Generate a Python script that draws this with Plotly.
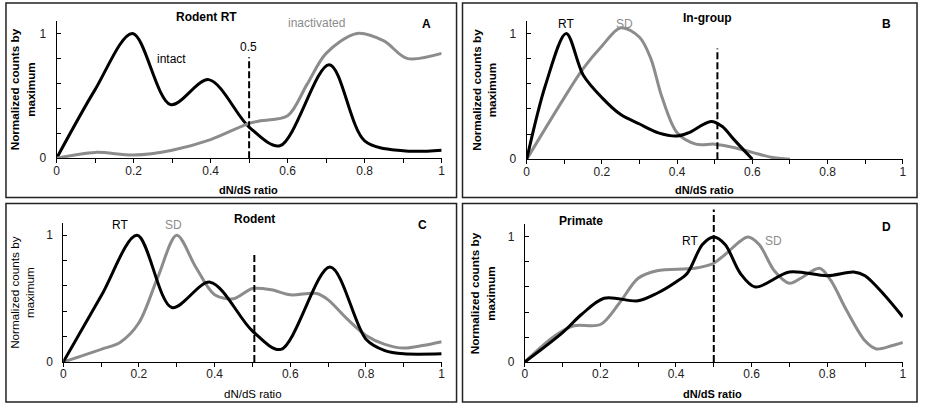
import plotly.graph_objects as go

W, H = 925, 413

# ---------------- data ----------------
# Panel A: Rodent RT
a_intact_x = [0, 0.1, 0.197, 0.296, 0.395, 0.5, 0.58, 0.708, 0.8, 0.9, 1.0]
a_intact_y = [0, 0.55, 1.0, 0.43, 0.63, 0.25, 0.10, 0.75, 0.14, 0.06, 0.065]
a_inact_x = [0, 0.1, 0.2, 0.3, 0.4, 0.5, 0.53, 0.6, 0.65, 0.7, 0.78, 0.85, 0.91, 1.0]
a_inact_y = [0, 0.047, 0.026, 0.065, 0.15, 0.28, 0.30, 0.34, 0.59, 0.84, 1.0, 0.94, 0.80, 0.84]

# Panel B: In-group
b_rt_x = [0, 0.05, 0.105, 0.15, 0.2, 0.25, 0.3, 0.35, 0.4, 0.43, 0.49, 0.52, 0.55, 0.6]
b_rt_y = [0, 0.59, 1.0, 0.67, 0.49, 0.355, 0.28, 0.21, 0.185, 0.21, 0.30, 0.26, 0.16, 0.0]
b_sd_x = [0, 0.1, 0.15, 0.2, 0.25, 0.3, 0.33, 0.36, 0.4, 0.45, 0.5, 0.55, 0.6, 0.65, 0.7]
b_sd_y = [0, 0.49, 0.72, 0.90, 1.045, 0.97, 0.80, 0.49, 0.21, 0.12, 0.12, 0.094, 0.055, 0.016, 0.0]

# Panel C: Rodent
c_rt_x = [0, 0.1, 0.195, 0.287, 0.388, 0.5, 0.575, 0.705, 0.8, 0.85, 0.9, 1.0]
c_rt_y = [0, 0.52, 1.0, 0.43, 0.63, 0.245, 0.10, 0.75, 0.18, 0.09, 0.065, 0.065]
c_sd_x = [0, 0.1, 0.15, 0.2, 0.25, 0.3, 0.35, 0.4, 0.45, 0.5, 0.55, 0.6, 0.67, 0.7, 0.75, 0.8, 0.85, 0.9, 0.95, 1.0]
c_sd_y = [0, 0.10, 0.155, 0.31, 0.67, 1.0, 0.75, 0.53, 0.50, 0.58, 0.57, 0.53, 0.54, 0.49, 0.34, 0.21, 0.14, 0.11, 0.13, 0.16]

# Panel D: Primate
d_rt_x = [0, 0.1, 0.15, 0.21, 0.3, 0.35, 0.4, 0.43, 0.47, 0.5, 0.53, 0.57, 0.61, 0.7, 0.8, 0.87, 0.9, 0.95, 1.0]
d_rt_y = [0, 0.235, 0.38, 0.51, 0.49, 0.55, 0.64, 0.71, 0.94, 1.0, 0.94, 0.71, 0.60, 0.72, 0.69, 0.72, 0.69, 0.54, 0.36]
d_sd_x = [0, 0.08, 0.13, 0.2, 0.25, 0.3, 0.35, 0.45, 0.5, 0.53, 0.59, 0.62, 0.66, 0.7, 0.73, 0.78, 0.81, 0.85, 0.9, 0.93, 0.97, 1.0]
d_sd_y = [0, 0.21, 0.29, 0.30, 0.47, 0.67, 0.73, 0.75, 0.79, 0.86, 1.0, 0.94, 0.73, 0.63, 0.67, 0.75, 0.65, 0.42, 0.17, 0.105, 0.13, 0.157]

# dashed threshold lines (x position, top y)
thr_x = [0.5, 0.507, 0.505, 0.5]
thr_top = [0.81, 0.88, 0.865, 1.22]

x_ticks = [0, 0.1, 0.2, 0.3, 0.4, 0.5, 0.6, 0.7, 0.8, 0.9, 1.0]
x_ticktext = ["0", "", "0.2", "", "0.4", "", "0.6", "", "0.8", "", "1"]
y_ticks = [0, 0.2, 0.4, 0.6, 0.8, 1.0]
y_ticktext = ["0", "", "", "", "", "1"]

BLACK = "#000000"
GRAY = "#8c8c8c"
FONT = "Liberation Sans, Arial, sans-serif"
DASH = "7px,3px"

fig = go.Figure()

def px_x(p):
    return p / W

def px_y(p):
    return 1 - p / H

# axes domains (pixel positions)
dom = {
    1: dict(x=(54, 442), y=(161, 21.3)),
    2: dict(x=(527.7, 906.7), y=(162, 21.2)),
    3: dict(x=(60.7, 442), y=(368.3, 226.4)),
    4: dict(x=(525.7, 906.7), y=(368.3, 228.3)),
}

series = {
    1: [(a_intact_x, a_intact_y, BLACK), (a_inact_x, a_inact_y, GRAY)],
    2: [(b_sd_x, b_sd_y, GRAY), (b_rt_x, b_rt_y, BLACK)],
    3: [(c_sd_x, c_sd_y, GRAY), (c_rt_x, c_rt_y, BLACK)],
    4: [(d_sd_x, d_sd_y, GRAY), (d_rt_x, d_rt_y, BLACK)],
}

for k in range(1, 5):
    xa = "x" if k == 1 else f"x{k}"
    ya = "y" if k == 1 else f"y{k}"
    for xs, ys, col in series[k]:
        fig.add_trace(go.Scatter(x=xs, y=ys, mode="lines", xaxis=xa, yaxis=ya,
                                 line=dict(color=col, width=3, shape="spline", smoothing=0.9),
                                 showlegend=False, hoverinfo="skip"))
    d = dom[k]
    xname = "xaxis" if k == 1 else f"xaxis{k}"
    yname = "yaxis" if k == 1 else f"yaxis{k}"
    fig.layout[xname] = dict(
        domain=[px_x(d["x"][0]), px_x(d["x"][1])], anchor=ya, range=[0, 1],
        tickvals=x_ticks, ticktext=x_ticktext, ticks="outside", ticklen=4, tickwidth=1,
        tickcolor=BLACK, showline=True, linecolor=BLACK, linewidth=1,
        ticklabelstandoff=-3,
        showgrid=False, zeroline=False, tickfont=dict(size=12, color="#222222", family=FONT),
    )
    fig.layout[yname] = dict(
        domain=[px_y(d["y"][0]), px_y(d["y"][1])], anchor=xa, range=[0, 1.1],
        tickvals=y_ticks, ticktext=y_ticktext, ticks="inside", ticklen=4, tickwidth=1,
        tickcolor=BLACK, showline=True, linecolor=BLACK, linewidth=1,
        ticklabelstandoff=7,
        showgrid=False, zeroline=False, tickfont=dict(size=12, color="#222222", family=FONT),
    )
    # threshold dashed line
    if k == 4:
        fig.add_shape(type="line", xref=xa, yref="paper", x0=thr_x[k - 1], x1=thr_x[k - 1],
                      y0=px_y(d["y"][0]), y1=px_y(213),
                      line=dict(color=BLACK, width=2, dash=DASH))
    else:
        fig.add_shape(type="line", xref=xa, yref=ya, x0=thr_x[k - 1], x1=thr_x[k - 1],
                      y0=0, y1=thr_top[k - 1], line=dict(color=BLACK, width=2, dash=DASH))

# frames
frames = [(3, 3, 457, 201), (463, 3, 921, 201), (3, 207, 457, 409), (463, 207, 921, 409)]
for x0, y0, x1, y1 in frames:
    fig.add_shape(type="rect", xref="paper", yref="paper", x0=px_x(x0), x1=px_x(x1),
                  y0=px_y(y1), y1=px_y(y0), line=dict(color="#222222", width=1.5))

def ann(text, x, y, size=12, bold=False, color=BLACK, angle=0, xanchor="center"):
    t = f"<b>{text}</b>" if bold else text
    fig.add_annotation(text=t, x=px_x(x), y=px_y(y), xref="paper", yref="paper",
                       showarrow=False, textangle=angle, xanchor=xanchor, yanchor="middle",
                       font=dict(size=size, color=color, family=FONT))

# y titles
ann("Normalized counts by<br>maximum", 20, 91, size=11.7, bold=True, angle=-90)
ann("Normalized counts by<br>maximum", 485, 91, size=11.7, bold=True, angle=-90)
ann("Normalized counts by<br>maximum", 19, 297, size=11.7, bold=False, angle=-90)
ann("Normalized counts by<br>maximum", 483, 298, size=11.7, bold=True, angle=-90)
# x titles
ann("dN/dS ratio", 247, 193, size=11, bold=True)
ann("dN/dS ratio", 707, 193, size=11, bold=True)
ann("dN/dS ratio", 252, 401, size=11.5, bold=False)
ann("dN/dS ratio", 715, 401, size=11, bold=True)

# Panel A labels
ann("Rodent RT", 205, 17, bold=True)
ann("inactivated", 316, 23, color=GRAY)
ann("A", 427, 24, bold=True)
ann("intact", 170, 60)
ann("0.5", 247, 48)
# Panel B labels
ann("RT", 567, 24)
ann("SD", 626, 24, color=GRAY)
ann("In-group", 710, 18, bold=True)
ann("B", 890, 24, bold=True)
# Panel C labels
ann("RT", 118, 229)
ann("SD", 172, 229, color=GRAY)
ann("Rodent", 253, 223, bold=True)
ann("C", 423, 229, bold=True)
# Panel D labels
ann("Primate", 582, 225, bold=True)
ann("RT", 692, 245)
ann("SD", 776, 245, color=GRAY)
ann("D", 890, 231, bold=True)

fig.update_layout(width=W, height=H, margin=dict(l=0, r=0, t=0, b=0),
                  paper_bgcolor="white", plot_bgcolor="white",
                  font=dict(family=FONT, color=BLACK))

fig.write_html("out.html", config={"displayModeBar": False},
               post_script="document.body.style.margin='0px';document.body.style.overflow='hidden';")
